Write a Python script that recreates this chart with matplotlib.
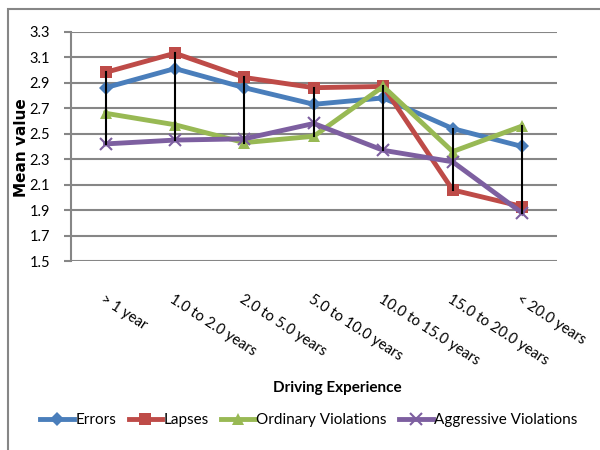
import matplotlib.pyplot as plt
from matplotlib.patches import Rectangle
from matplotlib.lines import Line2D

plt.rcParams["font.family"] = ["Lato", "DejaVu Sans"]

categories = [
    "> 1 year",
    "1.0 to 2.0 years",
    "2.0 to 5.0 years",
    "5.0 to 10.0 years",
    "10.0 to 15.0 years",
    "15.0 to 20.0 years",
    "< 20.0 years",
]
errors = [2.86, 3.01, 2.86, 2.73, 2.78, 2.54, 2.40]
lapses = [2.98, 3.13, 2.94, 2.86, 2.87, 2.06, 1.93]
ordinary = [2.66, 2.57, 2.43, 2.48, 2.87, 2.36, 2.56]
aggressive = [2.42, 2.45, 2.46, 2.58, 2.37, 2.28, 1.88]

series = [
    ("Errors", errors, "#4a7ebb", "D", 7),
    ("Lapses", lapses, "#be4b48", "s", 9),
    ("Ordinary Violations", ordinary, "#98b954", "^", 9),
    ("Aggressive Violations", aggressive, "#7d5fa0", "x", 8),
]

fig = plt.figure(figsize=(6, 4.5), dpi=100)
ax = fig.add_axes([0.118, 0.419, 0.81, 0.511])

x = list(range(len(categories)))

# high-low lines between the largest and smallest value per category
for i in x:
    vals = [errors[i], lapses[i], ordinary[i], aggressive[i]]
    ax.plot([i, i], [min(vals), max(vals)], color="black", lw=1.5, zorder=5)

for name, vals, color, marker, size in series:
    ax.plot(x, vals, color=color, lw=3.5, marker=marker, markersize=size,
            markeredgewidth=1.5 if marker == "x" else 0, markeredgecolor=color,
            label=name, zorder=3)

ax.set_xlim(-0.5, len(categories) - 0.5)
ax.set_ylim(1.5, 3.3)
ax.set_yticks([1.5 + 0.2 * k for k in range(10)])
ax.set_yticklabels([f"{1.5 + 0.2 * k:.1f}" for k in range(10)], fontsize=10.5)
ax.yaxis.grid(True, color="#868686", lw=1.5)
ax.set_axisbelow(True)
for s in ["top", "right", "bottom"]:
    ax.spines[s].set_visible(False)
ax.spines["left"].set_color("#868686")
ax.spines["left"].set_linewidth(1.5)
ax.tick_params(axis="y", color="#868686", width=1.5, length=5, pad=10)
ax.tick_params(axis="x", length=0, pad=22)
ax.set_xticks(x)
ax.set_xticklabels(categories, rotation=-33, ha="left", va="top",
                   rotation_mode="anchor", fontsize=10.5)

fig.text(0.035, 0.672, "Mean value", rotation=90, ha="center", va="center",
         fontsize=11, fontweight="bold", family="DejaVu Sans")
fig.text(0.563, 0.138, "Driving Experience", ha="center", va="center",
         fontsize=11, fontweight="bold")

handles = [
    Line2D([], [], color=c, lw=3.5, marker=m, markersize=s,
           markeredgewidth=1.5 if m == "x" else 0, markeredgecolor=c)
    for _, _, c, m, s in series
]
fig.legend(handles, [n for n, *_ in series], loc="center",
           bbox_to_anchor=(0.515, 0.067), ncol=4, frameon=False, fontsize=11,
           handlelength=2.2, handletextpad=0.1, columnspacing=0.8)

# outer chart frame
fig.patches.append(Rectangle((8 / 600, -0.1), 1.2, 0.98 + 0.1,
                             transform=fig.transFigure, fill=False,
                             edgecolor="#868686", lw=1.5))

fig.savefig("out.png", dpi=100)
